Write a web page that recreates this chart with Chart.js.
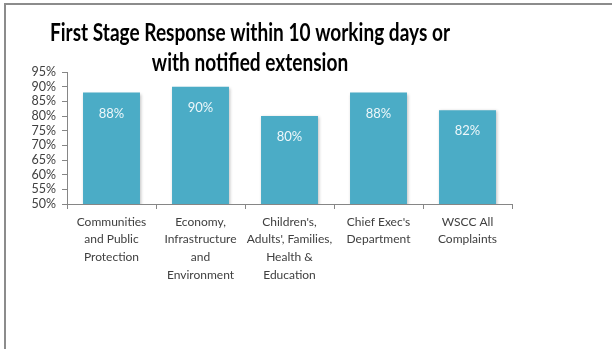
<!DOCTYPE html>
<html>
<head>
<meta charset="utf-8">
<script src="https://cdn.jsdelivr.net/npm/chart.js@4"></script>
<style>
  html, body { margin: 0; padding: 0; background: #fff; }
  #wrap { position: relative; width: 612px; height: 349px; overflow: hidden; }
  #frame {
    position: absolute; left: 4px; top: 3px; right: -10px; bottom: -10px;
    border-top: 2px solid #8c8c8c; border-left: 2px solid #8c8c8c;
  }
  canvas { position: absolute; left: 0; top: 0; }
</style>
</head>
<body>
<div id="wrap">
  <div id="frame"></div>
  <canvas id="chart" width="612" height="349"></canvas>
</div>
<script>
// Chart data
const titleLines = ['First Stage Response within 10 working days or', 'with notified extension'];
const categories = [
  ['Communities', 'and Public', 'Protection'],
  ['Economy,', 'Infrastructure', 'and', 'Environment'],
  ["Children's,", "Adults', Families,", 'Health &', 'Education'],
  ["Chief Exec's", 'Department'],
  ['WSCC All', 'Complaints']
];
const values = [88, 90, 80, 88, 82];
const yMin = 50, yMax = 95, yStep = 5;

const barColor = '#4bacc6';
const textColor = '#404040';
const axisColor = '#868686';

// Title drawn centred over the left part, like the original
const titlePlugin = {
  id: 'sheetTitle',
  afterDraw(chart) {
    const ctx = chart.ctx;
    ctx.save();
    ctx.font = "bold 24px Lato, 'Open Sans', sans-serif";
    ctx.fillStyle = '#000';
    ctx.textAlign = 'center';
    ctx.textBaseline = 'middle';
    const squeeze = 400 / ctx.measureText(titleLines[0]).width;
    const cx = 250;
    [33, 63].forEach((y, i) => {
      ctx.save();
      ctx.translate(cx, y);
      ctx.scale(squeeze, 1);
      ctx.fillText(titleLines[i], 0, 0);
      ctx.restore();
    });
    ctx.restore();
  }
};

// Value labels inside the bars
const valueLabels = {
  id: 'valueLabels',
  afterDatasetsDraw(chart) {
    const ctx = chart.ctx;
    const meta = chart.getDatasetMeta(0);
    ctx.save();
    ctx.font = "13px Lato, 'Open Sans', sans-serif";
    ctx.fillStyle = '#eef7fa';
    ctx.textAlign = 'center';
    ctx.textBaseline = 'middle';
    meta.data.forEach((bar, i) => {
      ctx.fillText(values[i] + '%', bar.x, bar.y + 21);
    });
    ctx.restore();
  }
};

// Soft shadow behind bars
const barShadow = {
  id: 'barShadow',
  beforeDatasetsDraw(chart) {
    const ctx = chart.ctx;
    ctx.save();
    ctx.shadowColor = 'rgba(0,0,0,0.25)';
    ctx.shadowBlur = 3;
    ctx.shadowOffsetX = 1;
    ctx.shadowOffsetY = 1;
  },
  afterDatasetsDraw(chart) {
    chart.ctx.restore();
  }
};

new Chart(document.getElementById('chart'), {
  type: 'bar',
  data: {
    labels: categories,
    datasets: [{
      data: values,
      backgroundColor: barColor,
      borderWidth: 0,
      categoryPercentage: 1,
      barPercentage: 0.64
    }]
  },
  plugins: [barShadow, valueLabels, titlePlugin],
  options: {
    responsive: false,
    animation: false,
    events: [],
    layout: { padding: { left: 0, right: 100, top: 72, bottom: 0 } },
    plugins: {
      legend: { display: false },
      tooltip: { enabled: false },
      title: { display: false }
    },
    scales: {
      x: {
        afterFit: scale => { scale.height = 145; },
        grid: {
          display: true,
          drawOnChartArea: false,
          drawTicks: true,
          tickLength: 5,
          color: axisColor,
          offset: true
        },
        border: { color: axisColor, width: 1 },
        ticks: {
          color: textColor,
          padding: 4,
          maxRotation: 0,
          autoSkip: false,
          font: { family: "Lato, 'Open Sans', sans-serif", size: 12, lineHeight: 1.47 }
        }
      },
      y: {
        min: yMin,
        max: yMax,
        afterFit: scale => { scale.width = 67; },
        grid: {
          display: true,
          drawOnChartArea: false,
          drawTicks: true,
          tickLength: 5,
          color: axisColor
        },
        border: { color: axisColor, width: 1 },
        ticks: {
          stepSize: yStep,
          autoSkip: false,
          color: textColor,
          padding: 6,
          callback: v => v + '%',
          font: { family: "Lato, 'Open Sans', sans-serif", size: 12.5, lineHeight: 1 }
        }
      }
    }
  }
});
</script>
</body>
</html>
